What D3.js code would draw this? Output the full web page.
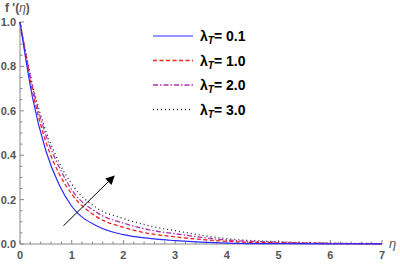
<!DOCTYPE html>
<html>
<head>
<meta charset="utf-8">
<script src="https://cdn.jsdelivr.net/npm/d3@7"></script>
<style>
  body { margin: 0; background: #fff; }
  text { font-family: "Liberation Sans", Arial, sans-serif; }
</style>
</head>
<body>
<div id="chart"></div>
<script>
// eta grid and f'(eta) profiles
const eta = [0, 0.25, 0.5, 0.75, 1, 1.5, 2, 2.5, 3, 4, 5, 6, 7];
const fBlue = [1, 0.65, 0.42, 0.27, 0.17, 0.08, 0.042, 0.025, 0.015, 0.004, 0.0015, 0.0005, 0.0002];
const fRed = [1, 0.68, 0.46, 0.32, 0.225, 0.12, 0.075, 0.047, 0.032, 0.012, 0.005, 0.002, 0.001];
const fPurple = [1, 0.70, 0.49, 0.35, 0.245, 0.14, 0.094, 0.064, 0.046, 0.018, 0.008, 0.003, 0.001];
const fBlack = [1, 0.71, 0.51, 0.37, 0.27, 0.16, 0.115, 0.082, 0.06, 0.024, 0.01, 0.004, 0.002];
const lambdaLabels = ['0.1', '1.0', '2.0', '3.0'];
const xTicks = [0, 1, 2, 3, 4, 5, 6, 7];
const yTicks = [0, 0.2, 0.4, 0.6, 0.8, 1.0];
const arrowFrom = [0.84, 0.082];
const arrowTo = [1.82, 0.306];

const W = 400, H = 264;
const x = d3.scaleLinear().domain([0, 7]).range([20, 382]);
const y = d3.scaleLinear().domain([0, 1]).range([244, 22]);

const svg = d3.select('#chart').append('svg')
  .attr('width', W).attr('height', H);

const series = [
  { vals: fBlue, color: '#2a2aff', dash: null, width: 1.2 },
  { vals: fRed, color: '#f02020', dash: '4,2.5', width: 1.3 },
  { vals: fPurple, color: '#b030b0', dash: '5,2,1.5,2', width: 1.3 },
  { vals: fBlack, color: '#222', dash: '1,3', width: 1.3 }
];

// axes
const axisColor = '#888', labColor = '#555';
const g = svg.append('g');
g.append('line').attr('x1', x(0)).attr('x2', x(7)).attr('y1', y(0)).attr('y2', y(0))
  .attr('stroke', axisColor);
g.append('line').attr('x1', x(0)).attr('x2', x(0)).attr('y1', y(0)).attr('y2', y(1))
  .attr('stroke', axisColor);

d3.range(0, 7.001, 0.2).forEach(v => {
  const major = Math.abs(v - Math.round(v)) < 1e-6;
  g.append('line').attr('x1', x(v)).attr('x2', x(v))
    .attr('y1', y(0)).attr('y2', y(0) - (major ? 4 : 2.5))
    .attr('stroke', axisColor);
});
d3.range(0, 1.001, 0.05).forEach(v => {
  const major = Math.abs(v * 5 - Math.round(v * 5)) < 1e-6;
  g.append('line').attr('x1', x(0)).attr('x2', x(0) + (major ? 4 : 2.5))
    .attr('y1', y(v)).attr('y2', y(v))
    .attr('stroke', axisColor);
});

g.selectAll('.xl').data(xTicks).enter().append('text')
  .attr('x', d => x(d)).attr('y', 259)
  .attr('text-anchor', 'middle').attr('font-size', 11).attr('font-weight', 'bold')
  .attr('fill', labColor)
  .text(d => d);
g.selectAll('.yl').data(yTicks).enter().append('text')
  .attr('x', 16).attr('y', d => y(d) + 4)
  .attr('text-anchor', 'end').attr('font-size', 11).attr('font-weight', 'bold')
  .attr('fill', labColor)
  .text(d => d.toFixed(1));

svg.append('text').attr('x', 5).attr('y', 12).attr('font-size', 12).attr('font-weight', 'bold')
  .attr('fill', labColor)
  .html('f \'(<tspan font-style="italic" font-weight="normal">η</tspan>)');
svg.append('text').attr('x', 389).attr('y', 248).attr('font-size', 13).attr('fill', labColor)
  .attr('font-style', 'italic').text('η');

// curves
const line = d3.line().x((d, i) => x(eta[i])).y(d => y(d)).curve(d3.curveMonotoneX);
series.slice().reverse().forEach(s => {
  svg.append('path').attr('d', line(s.vals))
    .attr('fill', 'none').attr('stroke', s.color)
    .attr('stroke-width', s.width)
    .attr('stroke-dasharray', s.dash);
});

// arrow
svg.append('defs').append('marker')
  .attr('id', 'ah').attr('viewBox', '0 0 10 10').attr('refX', 9).attr('refY', 5)
  .attr('markerWidth', 11).attr('markerHeight', 9).attr('markerUnits', 'userSpaceOnUse')
  .attr('orient', 'auto')
  .append('path').attr('d', 'M0,0 L10,5 L0,10 Z').attr('fill', '#000');
svg.append('line')
  .attr('x1', x(arrowFrom[0])).attr('y1', y(arrowFrom[1]))
  .attr('x2', x(arrowTo[0])).attr('y2', y(arrowTo[1]))
  .attr('stroke', '#000').attr('stroke-width', 1)
  .attr('marker-end', 'url(#ah)');

// legend
const leg = svg.append('g');
series.forEach((s, i) => {
  const ly = 36 + i * 24.5;
  leg.append('line').attr('x1', 153).attr('x2', 193).attr('y1', ly).attr('y2', ly)
    .attr('stroke', s.color).attr('stroke-width', s.width)
    .attr('stroke-dasharray', s.dash);
  const t = leg.append('text').attr('x', 200).attr('y', ly + 5)
    .attr('font-size', 14).attr('font-weight', 'bold').attr('fill', '#000');
  t.append('tspan').text('λ');
  t.append('tspan').attr('font-size', 10).attr('font-style', 'italic').attr('dy', 3).text('T');
  t.append('tspan').attr('dy', -3).text('= ' + lambdaLabels[i]);
});
</script>
</body>
</html>
